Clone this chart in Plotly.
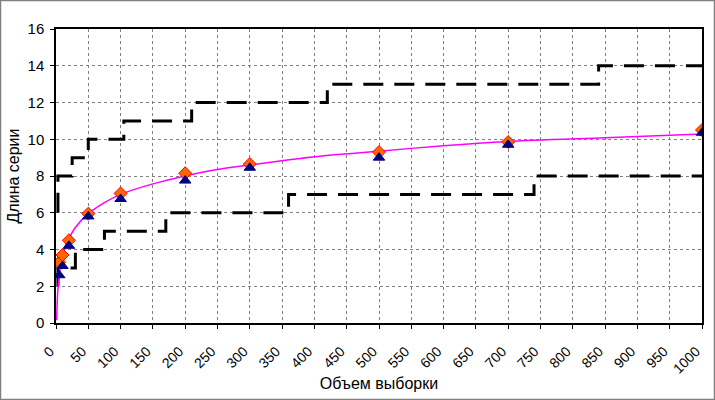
import plotly.graph_objects as go

# Sample sizes where runs were measured
sample_n = [5, 10, 20, 50, 100, 200, 300, 500, 700, 1000]
# Series 1 (red diamonds)
series_diamond = [3.3, 3.7, 4.5, 5.95, 7.05, 8.15, 8.65, 9.3, 9.85, 10.5]
# Series 2 (navy triangles)
series_triangle = [2.6, 3.1, 4.2, 5.8, 6.75, 7.75, 8.45, 9.0, 9.7, 10.35]

# Fitted curve (magenta)
curve_x = [1, 2, 3, 5, 7, 10, 15, 20, 30, 50, 75, 100, 150, 200, 250, 300,
           400, 500, 600, 700, 850, 1000]
curve_y = [0.15, 1.25, 1.85, 2.55, 3.05, 3.6, 4.2, 4.6, 5.2, 5.95, 6.55, 7.0,
           7.57, 8.0, 8.35, 8.6, 9.05, 9.35, 9.65, 9.88, 10.08, 10.28]

# Upper bound step line
upper_x = [3, 3, 25, 50, 105, 210, 420, 840, 1000]
upper_y = [6, 8, 9, 10, 11, 12, 13, 14, 14]
# Lower bound step line
lower_x = [3, 3, 30, 75, 170, 360, 740, 1000]
lower_y = [2, 3, 4, 5, 6, 7, 8, 8]

x_ticks = list(range(0, 1001, 50))
y_ticks = list(range(0, 17, 2))

fig = go.Figure()

step_line = dict(color="black", width=3, dash="20px,11px")
fig.add_trace(go.Scatter(x=upper_x, y=upper_y, mode="lines", line=step_line,
                         line_shape="hv", showlegend=False, hoverinfo="skip"))
fig.add_trace(go.Scatter(x=lower_x, y=lower_y, mode="lines", line=step_line,
                         line_shape="hv", showlegend=False, hoverinfo="skip"))
fig.add_trace(go.Scatter(x=curve_x, y=curve_y, mode="lines",
                         line=dict(color="#FF00FF", width=1.5, shape="spline", smoothing=0.8),
                         showlegend=False))
fig.add_trace(go.Scatter(x=sample_n, y=series_diamond, mode="markers",
                         marker=dict(symbol="diamond", size=10, color="#FF6600",
                                     line=dict(color="#FF0000", width=1)),
                         showlegend=False))
fig.add_trace(go.Scatter(x=sample_n, y=series_triangle, mode="markers",
                         marker=dict(symbol="triangle-up", size=10, color="#000080",
                                     line=dict(color="#000080", width=1)),
                         showlegend=False))

tick_font = dict(family="Liberation Sans, Arial, sans-serif", size=15, color="black")
xtick_font = dict(family="Liberation Sans, Arial, sans-serif", size=14, color="black")
title_font = dict(family="Liberation Sans, Arial, sans-serif", size=16, color="black")

fig.update_layout(
    width=715, height=400,
    margin=dict(l=56, r=13, t=29, b=77),
    paper_bgcolor="white", plot_bgcolor="white",
    font=tick_font,
    xaxis=dict(
        range=[0, 1000], tickvals=x_ticks, ticktext=[str(v) for v in x_ticks],
        tickangle=-45, showgrid=True, gridcolor="#808080", griddash="dot", gridwidth=1,
        showline=True, linecolor="black", linewidth=1.5, mirror=True,
        ticks="outside", ticklen=4, tickcolor="black",
        ticklabelstandoff=9, ticklabelshift=-6,
        zeroline=False, tickfont=xtick_font, automargin=False,
        title=dict(text="Объем выборки", font=title_font, standoff=2),
    ),
    yaxis=dict(
        range=[0, 16], tickvals=y_ticks, showgrid=True, gridcolor="#808080",
        griddash="dot", gridwidth=1,
        showline=True, linecolor="black", linewidth=1.5, mirror=True,
        ticks="outside", ticklen=4, tickcolor="black",
        ticklabelstandoff=3,
        zeroline=False, tickfont=tick_font, automargin=False,
        title=dict(text="Длина серии", font=title_font, standoff=4),
    ),
    shapes=[dict(type="rect", xref="paper", yref="paper",
                 x0=-55.5 / 646, x1=1 + 12.5 / 646,
                 y0=-76.5 / 294, y1=1 + 28.5 / 294,
                 line=dict(color="#808080", width=1.5), layer="below")],
)

fig.write_html("out.html", config={"displayModeBar": False},
               post_script="document.body.style.margin='0px';document.body.style.overflow='hidden';")
